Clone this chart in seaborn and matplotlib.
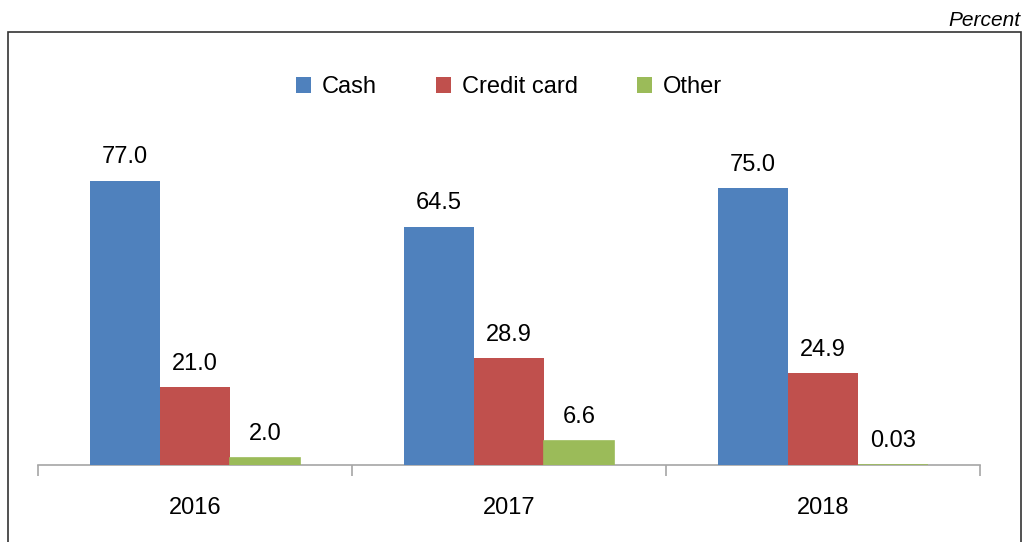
import numpy as np
import pandas as pd
import matplotlib.pyplot as plt
import matplotlib.patches as mpatches
import seaborn as sns

# Datos
years = ["2016", "2017", "2018"]
cash = [77.0, 64.5, 75.0]
credit_card = [21.0, 28.9, 24.9]
other = [2.0, 6.6, 0.03]
value_labels = {"Cash": ["77.0", "64.5", "75.0"],
                "Credit card": ["21.0", "28.9", "24.9"],
                "Other": ["2.0", "6.6", "0.03"]}
series = ["Cash", "Credit card", "Other"]
colors = ["#4F81BD", "#C0504D", "#9BBB59"]

df = pd.DataFrame({
    "year": years * 3,
    "value": cash + credit_card + other,
    "type": ["Cash"] * 3 + ["Credit card"] * 3 + ["Other"] * 3,
})

sns.set_style("white")
plt.rcParams["font.family"] = ["Liberation Sans", "DejaVu Sans"]
plt.rcParams["text.color"] = "black"
plt.rcParams["xtick.color"] = "black"

fig = plt.figure(figsize=(10.24, 5.42), dpi=100)
ax = fig.add_axes([38 / 1024, 77 / 542, 942 / 1024, 433 / 542])

sns.barplot(data=df, x="year", y="value", hue="type", hue_order=series,
            palette=colors, width=0.667, gap=0, saturation=1, ax=ax,
            edgecolor="none", linewidth=0, legend=True)

ax.set_ylim(0, 117.3)
ax.set_xlim(-0.5, 2.5)

# Barras por encima del eje; "Other" casi nula con borde fino para que se vea
for cont in ax.containers:
    for p in cont:
        p.set_zorder(3)
for p in ax.containers[2]:
    p.set_edgecolor(colors[2])
    p.set_linewidth(1.2)

# Etiquetas de valores
for cont, name in zip(ax.containers, series):
    ax.bar_label(cont, labels=value_labels[name], padding=9, fontsize=17, color="black")

# Ejes
for s in ["top", "right", "left"]:
    ax.spines[s].set_visible(False)
ax.spines["bottom"].set_color("#A6A6A6")
ax.spines["bottom"].set_linewidth(1.2)
ax.set_yticks([])
ax.set_xticks([-0.5, 0.5, 1.5, 2.5])
ax.set_xticklabels([])
ax.tick_params(axis="x", which="major", length=8, color="#A6A6A6", width=1.2, direction="out", bottom=True)
ax.set_xticks([0, 1, 2], minor=True)
ax.set_xticklabels(years, minor=True, fontsize=17)
ax.tick_params(axis="x", which="minor", length=0, pad=23, labelcolor="black")
ax.set_xlabel("")
ax.set_ylabel("")

# Leyenda
handles, labels = ax.get_legend_handles_labels()
ax.legend(handles, labels, loc="center", bbox_to_anchor=(0.5, 0.873), ncol=3,
          frameon=False, fontsize=17, handlelength=0.65, handleheight=0.65,
          handletextpad=0.45, columnspacing=2.5)

# Marco y texto "Percent"
frame = mpatches.Rectangle((8 / 1024, -0.05), 1013 / 1024, 1 - 32 / 542 + 0.05,
                           transform=fig.transFigure, fill=False,
                           edgecolor="#333333", linewidth=1.2, clip_on=False)
fig.patches.append(frame)
fig.text(1020 / 1024, 1 - 21 / 542, "Percent", ha="right", va="center",
         fontsize=15, style="italic")

fig.savefig("out.png", dpi=100)
